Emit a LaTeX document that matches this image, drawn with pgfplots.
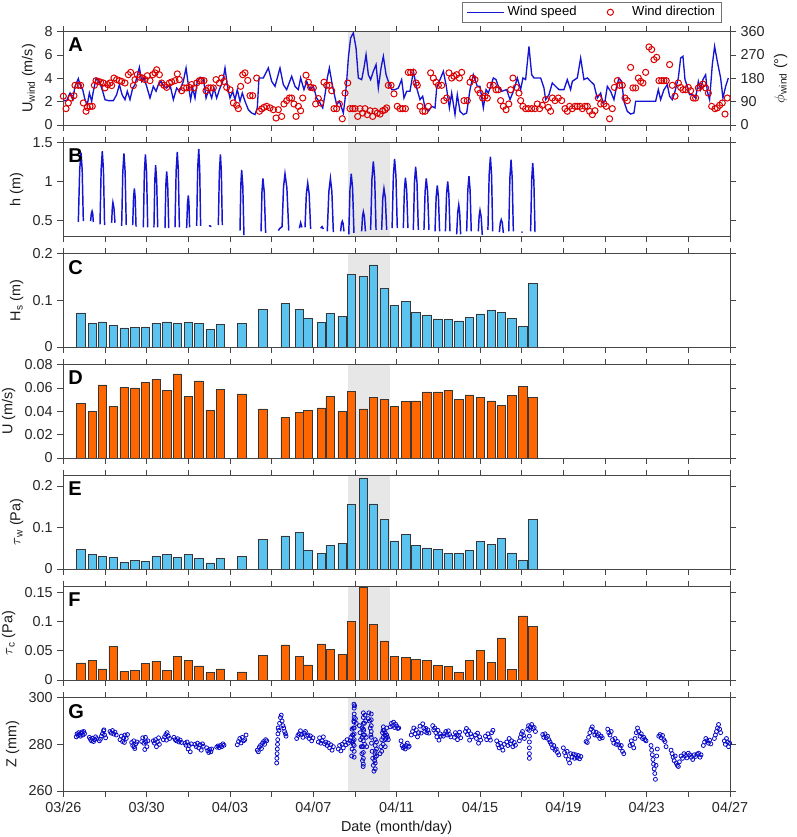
\documentclass[border=0pt]{standalone}
\usepackage{pgfplots}
\usepackage{pgfplotstable}
\pgfplotsset{compat=1.18}
\usepackage{fontspec}
\setmainfont{Liberation Sans}
\definecolor{wblue}{RGB}{20,20,210}
\definecolor{wred}{RGB}{220,0,0}
\definecolor{barblue}{RGB}{90,195,240}
\definecolor{barorange}{RGB}{255,102,0}
\definecolor{baredge}{RGB}{55,55,55}
\definecolor{shade}{RGB}{231,231,231}
\definecolor{axgray}{RGB}{70,70,70}
\definecolor{zblue}{RGB}{10,10,200}
\newcommand\fs{\fontsize{10.8}{13}\selectfont}
\newcommand\lfont{\fontsize{15}{15}\selectfont\bfseries}

\pgfplotstableread{
x Hs U tw tc
0.84 0.073 0.047 0.048 0.0295
1.39 0.051 0.040 0.0345 0.0335
1.87 0.054 0.0626 0.030 0.019
2.39 0.046 0.044 0.028 0.058
2.91 0.041 0.0606 0.016 0.015
3.43 0.042 0.060 0.020 0.017
3.94 0.043 0.065 0.019 0.028
4.45 0.051 0.0677 0.030 0.032
4.96 0.054 0.058 0.0345 0.0165
5.47 0.051 0.072 0.028 0.040
6.00 0.052 0.053 0.036 0.0335
6.50 0.050 0.066 0.0265 0.024
7.04 0.037 0.041 0.015 0.0136
7.54 0.049 0.059 0.0265 0.019
8.56 0.051 0.055 0.031 0.014
9.58 0.081 0.042 0.072 0.042
10.64 0.093 0.035 0.080 0.060
11.34 0.081 0.039 0.088 0.040
11.73 0.061 0.0406 0.045 0.026
12.38 0.053 0.043 0.037 0.062
12.80 0.072 0.053 0.057 0.053
13.38 0.065 0.040 0.061 0.044
13.82 0.156 0.057 0.155 0.100
14.40 0.152 0.042 0.219 0.1595
14.88 0.176 0.052 0.157 0.095
15.40 0.125 0.050 0.120 0.067
15.90 0.089 0.044 0.068 0.041
16.44 0.097 0.0486 0.083 0.0386
16.92 0.074 0.049 0.056 0.035
17.44 0.069 0.0566 0.051 0.034
17.97 0.060 0.0566 0.047 0.0256
18.47 0.059 0.058 0.038 0.023
18.98 0.056 0.050 0.038 0.0125
19.48 0.064 0.054 0.045 0.033
20.01 0.071 0.052 0.066 0.0506
20.53 0.078 0.049 0.059 0.030
21.03 0.074 0.045 0.074 0.072
21.52 0.061 0.0534 0.039 0.018
22.05 0.044 0.0617 0.021 0.110
22.54 0.136 0.0517 0.119 0.0915
}\bardata

\pgfplotsset{
  panel/.style={
    scale only axis, width=500pt, height=70pt,
    xmin=0, xmax=32,
    xtick={0,4,...,32}, minor xtick={2,6,...,30},
    xticklabels={},
    tick align=outside,
    major tick length=4.5pt, minor tick length=4.5pt,
    axis line style={draw=axgray, line width=0.6pt},
    tick style={draw=axgray, line width=0.6pt},
    every minor tick/.append style={draw=axgray, line width=0.6pt},
    tick label style={font=\fs, text=black!85},
    label style={font=\fs, text=black!90},
    /pgf/number format/assume math mode=true,
    scaled y ticks=false,
    yticklabel style={/pgf/number format/fixed, /pgf/number format/precision=2},
    axis on top,
    anchor=south west,
  },
  shadeplot/.style={fill=shade, draw=none, forget plot},
  bars/.style={ybar, bar width=0.4, draw=baredge, line width=0.4pt, forget plot},
  linelegend/.style={legend image code/.code={\draw[##1] (0pt,0pt) -- (28pt,0pt);}},
  marklegend/.style={legend image code/.code={\path (0pt,0pt) (28pt,0pt); \draw[##1, mark repeat=2, mark phase=2] plot coordinates {(0pt,0pt) (14pt,0pt) (28pt,0pt)};}},
}
\tikzset{plabel/.style={anchor=north west, inner sep=0pt, font=\lfont, xshift=3.5pt, yshift=-4.7pt}}

\begin{document}
\begin{tikzpicture}
\path[use as bounding box] (0pt,0pt) rectangle (597pt,627.75pt);

% ---------- A ----------
\begin{axis}[panel, at={(47.5pt,534pt)}, ymin=0, ymax=8, ytick={0,2,4,6,8}, ytick pos=left,
  ylabel={U\textsubscript{wind} (m/s)}]
\addplot[shadeplot] coordinates {(13.65,0)(13.65,8)(15.68,8)(15.68,0)} -- cycle;
\addplot[wblue, line width=1pt] coordinates {
(0.00,2.09)(0.16,2.09)(0.32,2.74)(0.45,2.17)(0.56,3.31)(0.72,3.97)(0.83,3.31)(0.93,3.03)(1.04,2.17)(1.15,1.74)(1.25,2.74)(1.36,2.03)(1.44,2.89)(1.57,3.97)(1.73,3.74)(1.89,2.89)(2.00,2.17)(2.16,2.09)(2.40,2.09)(2.56,2.60)(2.69,3.46)(2.82,2.60)(2.96,2.17)(3.07,2.89)(3.20,2.17)(3.33,3.17)(3.44,3.46)(3.65,4.94)(3.76,3.74)(3.87,4.03)(4.00,3.31)(4.16,2.31)(4.32,3.31)(4.45,2.89)(4.56,3.46)(4.69,3.74)(4.83,3.31)(4.96,3.17)(5.12,3.46)(5.28,2.17)(5.44,3.17)(5.57,2.89)(5.76,3.74)(5.89,4.89)(6.02,3.17)(6.11,2.17)(6.21,3.17)(6.32,2.31)(6.43,3.74)(6.56,4.09)(6.72,4.03)(6.85,2.31)(6.98,3.03)(7.12,2.31)(7.23,3.17)(7.36,2.31)(7.49,3.03)(7.65,3.74)(7.76,4.89)(7.89,3.17)(8.00,2.31)(8.13,2.89)(8.24,2.17)(8.35,3.03)(8.48,2.03)(8.59,2.74)(8.72,2.03)(8.88,1.31)(9.04,1.03)(9.20,0.89)(9.31,1.46)(9.39,4.03)(9.60,4.03)(9.84,4.89)(10.00,3.74)(10.16,3.31)(10.40,4.89)
(10.56,3.46)(10.72,3.03)(10.96,4.17)(11.12,3.31)(11.28,3.03)(11.39,4.03)(11.55,3.03)(11.68,3.74)(11.84,3.03)(12.00,3.31)(12.16,2.31)(12.32,1.89)(12.45,1.46)(12.56,2.60)(12.67,4.03)(12.77,4.89)(12.88,3.74)(13.01,2.60)(13.12,1.74)(13.25,2.03)(13.36,1.46)(13.44,1.03)(13.52,2.17)(13.60,3.74)(13.68,5.74)(13.79,7.46)(13.92,7.89)(14.05,6.60)(14.16,4.03)(14.32,3.89)(14.43,4.89)(14.53,6.03)(14.64,4.31)(14.75,3.89)(14.88,4.60)(15.01,5.17)(15.12,3.17)(15.25,4.89)(15.36,5.89)(15.49,4.31)(15.60,3.74)(15.76,3.03)(15.92,3.03)(16.08,3.17)(16.24,3.89)(16.35,2.31)(16.48,2.89)(16.64,2.89)(16.80,4.60)(16.96,3.17)(17.12,2.17)(17.25,2.46)(17.36,1.46)(17.52,1.17)(17.68,1.60)(17.84,1.46)(17.92,3.17)(18.08,3.89)(18.24,4.60)(18.37,3.46)(18.53,1.46)(18.64,2.74)(18.80,0.89)(18.91,2.60)(19.04,1.17)(19.20,0.89)(19.36,1.03)(19.52,3.03)(19.68,4.31)(19.87,3.31)(20.00,3.31)(20.16,1.46)(20.29,3.03)(20.40,2.74)(20.51,3.31)(20.64,4.03)(20.77,3.89)(20.88,3.31)(21.04,2.89)(21.28,3.03)(21.44,2.17)
(21.63,3.03)(21.79,4.03)(21.95,3.03)(22.06,4.03)(22.19,3.89)(22.35,6.74)(22.48,4.31)(22.59,4.03)(22.75,4.03)(22.91,4.03)(23.07,3.17)(23.15,2.17)(23.31,2.60)(23.47,3.60)(23.63,3.31)(23.79,3.03)(24.03,3.03)(24.19,3.89)(24.35,3.03)(24.43,3.74)(24.67,4.03)(24.83,5.74)(24.99,3.89)(25.15,4.03)(25.31,3.74)(25.47,3.46)(25.63,2.31)(25.79,2.74)(25.90,1.89)(26.00,2.03)(26.11,3.31)(26.27,2.89)(26.43,2.17)(26.54,3.17)(26.67,4.03)(26.80,3.74)(26.91,2.03)(27.07,1.17)(27.23,0.94)(27.39,1.03)(27.47,2.03)(27.95,2.03)(28.43,2.03)(28.56,3.03)(28.67,2.17)(28.83,3.03)(28.99,3.46)(29.10,2.46)(29.23,2.17)(29.36,2.89)(29.52,4.03)(29.63,5.74)(29.74,5.89)(29.84,3.89)(29.95,3.31)(30.06,2.60)(30.19,2.60)(30.35,2.31)(30.48,3.74)(30.59,3.03)(30.70,3.89)(30.83,4.31)(30.91,2.89)(31.02,2.17)(31.15,5.17)(31.26,6.74)(31.39,5.46)(31.55,4.03)(31.66,2.31)(31.79,3.31)(31.92,4.03)
};
\node[plabel] at (rel axis cs:0,1) {A};
\end{axis}
\begin{axis}[panel, at={(47.5pt,534pt)}, ymin=0, ymax=360, ytick={0,90,180,270,360},
  axis x line=none, axis y line*=right, tick align=outside, clip=false,
  ylabel={$\phi$\textsubscript{wind} (°)},
  legend columns=2,
  legend style={at={(0.988,1)}, anchor=south east, yshift=6.5pt, draw=black!55, line width=0.5pt,
    fill=white, font=\fontsize{9.8}{11}\selectfont, inner xsep=3pt, inner ysep=1.5pt,
    /tikz/every even column/.append style={column sep=9pt}}]
\addlegendimage{wblue, line width=1pt, linelegend}
\addlegendentry{Wind speed}
\addplot[only marks, mark=o, mark size=2.3pt, wred, line width=0.75pt, marklegend]
coordinates {
(0.00,111)(0.13,63)(0.24,85)(0.37,104)(0.51,113)(0.56,153)(0.72,153)(0.83,153)(0.96,85)(1.09,53)(1.15,68)(1.28,72)(1.39,72)(1.49,153)(1.57,171)(1.68,168)(1.79,165)(1.92,162)(2.00,143)(2.13,156)(2.24,162)(2.32,152)(2.43,181)(2.56,175)(2.69,171)(2.80,168)(2.96,162)(3.12,194)(3.23,203)(3.36,152)(3.44,175)(3.55,194)(3.68,184)(3.81,181)(3.92,175)(4.03,190)(4.16,171)(4.29,194)(4.40,201)(4.48,213)(4.61,194)(4.72,162)(4.83,153)(4.96,145)(5.09,162)(5.20,166)(5.36,171)(5.47,197)(5.57,175)(5.68,132)(5.79,143)(5.92,143)(6.05,145)(6.16,156)(6.27,143)(6.40,162)(6.53,171)(6.64,171)(6.75,171)(6.85,132)(6.96,143)(7.07,143)(7.20,143)(7.33,175)(7.49,162)(7.60,181)(7.71,168)(7.84,145)(8.00,136)(8.16,85)(8.32,76)(8.40,63)(8.51,149)(8.61,194)(8.72,201)(8.85,172)(8.96,113)(9.09,113)(9.28,181)(9.41,53)(9.52,62)(9.63,68)(9.76,72)(9.92,66)(10.08,59)(10.21,27)(10.32,59)(10.48,33)(10.59,81)(10.72,94)(10.85,104)
(10.96,104)(11.07,81)(11.17,33)(11.28,72)(11.39,55)(11.49,104)(11.65,192)(11.76,165)(11.87,145)(12.00,143)(12.11,81)(12.24,102)(12.35,85)(12.51,165)(12.64,153)(12.77,153)(12.88,132)(12.99,63)(13.12,63)(13.25,81)(13.39,24)(13.52,123)(13.65,162)(13.76,63)(13.89,63)(14.00,63)(14.13,33)(14.24,63)(14.37,46)(14.48,63)(14.59,40)(14.72,55)(14.85,33)(14.96,53)(15.07,46)(15.20,42)(15.33,55)(15.44,59)(15.52,66)(15.60,153)(15.73,153)(15.87,120)(16.03,72)(16.16,63)(16.29,63)(16.42,63)(16.56,203)(16.67,203)(16.80,203)(16.93,162)(16.99,153)(17.12,72)(17.25,53)(17.36,53)(17.52,72)(17.63,201)(17.76,181)(17.89,165)(18.00,153)(18.16,153)(18.27,94)(18.40,104)(18.51,201)(18.64,181)(18.75,188)(18.88,194)(19.01,181)(19.12,203)(19.23,94)(19.39,94)(19.52,165)(19.65,181)(19.76,175)(19.89,136)(20.00,123)(20.13,104)(20.24,111)(20.35,104)(20.48,153)(20.64,153)(20.77,136)(20.88,136)(20.99,94)(21.12,72)(21.25,59)(21.38,81)
(21.47,136)(21.58,181)(21.74,145)(21.87,123)(21.95,94)(22.06,72)(22.19,63)(22.32,63)(22.48,63)(22.64,63)(22.75,81)(22.86,63)(22.99,76)(23.15,98)(23.28,68)(23.39,53)(23.47,104)(23.60,94)(23.76,104)(23.92,94)(24.08,63)(24.19,53)(24.30,72)(24.43,63)(24.56,72)(24.67,72)(24.80,72)(24.91,63)(25.04,72)(25.15,72)(25.26,53)(25.39,40)(25.52,55)(25.68,104)(25.79,81)(25.95,81)(26.06,72)(26.22,24)(26.35,63)(26.45,145)(26.59,171)(26.70,153)(26.83,153)(26.96,104)(27.07,94)(27.23,222)(27.34,143)(27.47,143)(27.60,181)(27.71,168)(27.82,162)(27.95,203)(28.11,301)(28.24,291)(28.35,252)(28.48,261)(28.59,171)(28.72,171)(28.83,171)(28.94,171)(29.10,233)(29.23,153)(29.36,111)(29.52,162)(29.63,145)(29.74,136)(29.87,136)(30.00,145)(30.11,132)(30.24,104)(30.35,104)(30.48,143)(30.59,149)(30.70,158)(30.83,143)(30.96,123)(31.12,72)(31.28,63)(31.39,66)(31.50,76)(31.63,85)(31.76,42)(31.87,104)
};
\addlegendentry{Wind direction}
\end{axis}

% ---------- B ----------
\begin{axis}[panel, at={(47.5pt,450.75pt)}, ymin=0.3, ymax=1.5, ytick={0.5,1,1.5},
  ylabel={h (m)}, unbounded coords=jump]
\addplot[shadeplot] coordinates {(13.65,0.3)(13.65,1.5)(15.68,1.5)(15.68,0.3)} -- cycle;
\addplot[wblue, line width=1.1pt] coordinates {
(0.72,0.48)(0.785,1.15)(0.85,1.37)(0.905,1.15)(0.96,0.49)(0.98,nan)
(1.31,0.49)(1.345,0.59)(1.38,0.62)(1.41,0.59)(1.44,0.48)(1.50,nan)
(1.76,0.45)(1.815,1.15)(1.87,1.39)(1.925,1.15)(1.98,0.44)(2.0,nan)
(2.32,0.47)(2.35,0.66)(2.38,0.73)(2.43,0.66)(2.48,0.47)(2.5,nan)
(2.80,0.43)(2.855,1.13)(2.91,1.36)(2.965,1.13)(3.02,0.44)(3.1,nan)
(3.33,0.44)(3.37,0.79)(3.41,0.91)(3.45,0.79)(3.49,0.42)(3.6,nan)
(3.84,0.41)(3.89,1.12)(3.94,1.35)(3.995,1.12)(4.05,0.41)(4.1,nan)
(4.35,0.41)(4.39,1.01)(4.43,1.21)(4.48,1.01)(4.53,0.41)(4.6,nan)
(4.88,0.40)(4.92,0.95)(4.96,1.13)(5.01,0.95)(5.06,0.40)(5.1,nan)
(5.36,0.41)(5.415,1.14)(5.47,1.38)(5.52,1.14)(5.57,0.41)(5.6,nan)
(5.92,0.40)(5.96,0.72)(6.00,0.82)(6.03,0.72)(6.06,0.41)(6.1,nan)
(6.40,0.43)(6.45,1.17)(6.50,1.42)(6.545,1.17)(6.59,0.43)(6.7,nan)
(6.99,0.43)(7.04,0.43)(7.10,0.42)(7.2,nan)
(7.44,0.44)(7.49,1.12)(7.54,1.35)(7.585,1.12)(7.63,0.44)(7.7,nan)
(8.48,0.37)(8.52,0.96)(8.56,1.15)(8.615,0.94)(8.67,0.31)(8.7,nan)
(9.49,0.36)(9.535,0.87)(9.58,1.04)(9.645,0.86)(9.71,0.34)(9.8,nan)
(10.32,0.37)(10.40,0.40)(10.50,0.42)(10.57,0.93)(10.64,1.10)(10.73,0.92)(10.82,0.37)(10.9,nan)
(11.33,0.40)(11.39,0.47)(11.45,0.41)(11.5,nan)
(11.60,0.41)(11.665,0.84)(11.73,0.98)(11.80,0.84)(11.87,0.39)(11.9,nan)
(12.35,0.40)(12.42,0.42)(12.48,0.39)(12.5,nan)
(12.67,0.36)(12.745,0.87)(12.82,1.04)(12.89,0.87)(12.96,0.35)(13.0,nan)
(13.31,0.36)(13.35,0.46)(13.39,0.49)(13.43,0.46)(13.47,0.36)(13.5,nan)
(13.70,0.32)(13.76,0.90)(13.82,1.10)(13.885,0.91)(13.95,0.34)(14.0,nan)
(14.32,0.36)(14.36,0.55)(14.40,0.61)(14.45,0.55)(14.50,0.36)(14.6,nan)
(14.75,0.38)(14.815,1.04)(14.88,1.26)(14.945,1.04)(15.01,0.38)(15.1,nan)
(15.28,0.38)(15.335,0.79)(15.39,0.91)(15.455,0.79)(15.52,0.38)(15.6,nan)
(15.78,0.40)(15.84,1.07)(15.90,1.29)(15.965,1.07)(16.03,0.40)(16.1,nan)
(16.32,0.40)(16.37,0.89)(16.42,1.05)(16.48,0.89)(16.54,0.40)(16.6,nan)
(16.80,0.38)(16.855,0.99)(16.91,1.19)(16.975,0.99)(17.04,0.38)(17.1,nan)
(17.31,0.38)(17.365,0.87)(17.42,1.04)(17.485,0.87)(17.55,0.38)(17.6,nan)
(17.84,0.36)(17.895,0.80)(17.95,0.95)(18.005,0.80)(18.06,0.36)(18.1,nan)
(18.34,0.36)(18.395,0.84)(18.45,1.00)(18.505,0.84)(18.56,0.36)(18.6,nan)
(18.88,0.32)(18.93,0.60)(18.98,0.70)(19.025,0.60)(19.07,0.32)(19.1,nan)
(19.36,0.36)(19.415,0.89)(19.47,1.07)(19.525,0.89)(19.58,0.36)(19.6,nan)
(19.92,0.36)(19.96,0.56)(20.00,0.63)(20.055,0.55)(20.11,0.31)(20.2,nan)
(20.38,0.38)(20.44,1.09)(20.50,1.32)(20.555,1.08)(20.61,0.36)(20.7,nan)
(20.93,0.35)(20.975,0.47)(21.02,0.51)(21.07,0.47)(21.12,0.34)(21.2,nan)
(21.38,0.36)(21.435,1.05)(21.49,1.28)(21.545,1.05)(21.60,0.36)(21.7,nan)
(21.98,0.35)(22.05,0.35)(22.1,nan)
(22.43,0.36)(22.48,1.01)(22.53,1.24)(22.585,1.01)(22.64,0.35)
};
\node[plabel] at (rel axis cs:0,1) {B};
\end{axis}

% ---------- C ----------
\begin{axis}[panel, at={(47.5pt,367.5pt)}, ymin=0, ymax=0.2, ytick={0,0.1,0.2},
  ylabel={H\textsubscript{s} (m)}]
\addplot[shadeplot] coordinates {(13.65,0)(13.65,0.2)(15.68,0.2)(15.68,0)} -- cycle;
\addplot[bars, fill=barblue] table[x=x, y=Hs] {\bardata};
\node[plabel] at (rel axis cs:0,1) {C};
\end{axis}

% ---------- D ----------
\begin{axis}[panel, at={(47.5pt,284.25pt)}, ymin=0, ymax=0.08, ytick={0,0.02,0.04,0.06,0.08},
  ylabel={U (m/s)}]
\addplot[shadeplot] coordinates {(13.65,0)(13.65,0.08)(15.68,0.08)(15.68,0)} -- cycle;
\addplot[bars, fill=barorange] table[x=x, y=U] {\bardata};
\node[plabel] at (rel axis cs:0,1) {D};
\end{axis}

% ---------- E ----------
\begin{axis}[panel, at={(47.5pt,201pt)}, ymin=0, ymax=0.225, ytick={0,0.1,0.2},
  ylabel={$\tau$\textsubscript{w} (Pa)}]
\addplot[shadeplot] coordinates {(13.65,0)(13.65,0.225)(15.68,0.225)(15.68,0)} -- cycle;
\addplot[bars, fill=barblue] table[x=x, y=tw] {\bardata};
\node[plabel] at (rel axis cs:0,1) {E};
\end{axis}

% ---------- F ----------
\begin{axis}[panel, at={(47.5pt,117.75pt)}, ymin=0, ymax=0.16, ytick={0,0.05,0.1,0.15},
  ylabel={$\tau$\textsubscript{c} (Pa)}]
\addplot[shadeplot] coordinates {(13.65,0)(13.65,0.16)(15.68,0.16)(15.68,0)} -- cycle;
\addplot[bars, fill=barorange] table[x=x, y=tc] {\bardata};
\node[plabel] at (rel axis cs:0,1) {F};
\end{axis}

% ---------- G ----------
\begin{axis}[panel, at={(47.5pt,34.5pt)}, ymin=260, ymax=300, ytick={260,280,300},
  xticklabels={03/26,03/30,04/03,04/07,04/11,04/15,04/19,04/23,04/27},
  ylabel={Z (mm)}, xlabel={Date (month/day)}]
\addplot[shadeplot] coordinates {(13.65,260)(13.65,300)(15.68,300)(15.68,260)} -- cycle;
\addplot[only marks, mark=o, mark size=1.5pt, zblue, line width=0.6pt] coordinates {
(0.62,283.2)(0.66,284.5)(0.70,283.8)(0.74,285.0)(0.78,284.2)(0.82,283.5)(0.86,284.8)(0.90,285.3)(0.94,284.0)(0.98,285.5)(1.02,284.6)
(1.25,283.0)(1.30,282.2)(1.35,281.5)(1.40,282.6)(1.45,281.2)(1.50,282.0)(1.55,283.2)(1.60,282.4)
(1.73,281.5)(1.78,282.2)(1.83,283.5)(1.88,284.6)(1.93,285.8)(1.98,284.0)(2.03,282.8)(1.95,286.2)
(2.24,285.5)(2.30,284.8)(2.36,285.9)(2.42,284.4)(2.48,285.2)(2.54,284.0)
(2.72,282.0)(2.78,283.5)(2.84,281.2)(2.90,282.8)(2.96,284.0)(3.02,282.5)(3.08,284.2)(2.93,280.8)
(3.28,280.8)(3.33,279.5)(3.38,281.5)(3.43,278.2)(3.48,280.2)(3.53,281.0)(3.40,279.0)
(3.76,281.2)(3.81,282.8)(3.86,280.5)(3.91,277.8)(3.96,281.0)(4.01,279.0)(4.06,281.5)(3.94,283.0)
(4.32,281.5)(4.37,280.5)(4.42,282.0)(4.47,279.0)(4.52,281.0)(4.57,282.8)(4.61,280.0)
(4.80,282.0)(4.86,283.2)(4.92,284.2)(4.98,285.0)(5.04,283.5)(5.10,282.5)(4.95,281.8)
(5.31,283.0)(5.37,282.0)(5.43,281.5)(5.49,282.4)(5.55,281.0)(5.61,281.8)(5.67,280.8)
(5.84,280.5)(5.89,279.6)(5.94,281.0)(5.99,278.0)(6.04,279.5)(6.09,276.8)(6.14,280.2)
(6.32,280.0)(6.38,279.0)(6.44,280.5)(6.50,278.5)(6.56,279.8)(6.62,277.5)(6.68,280.2)(6.72,279.2)
(6.88,278.5)(6.93,277.3)(6.98,276.5)(7.03,277.8)(7.08,276.8)(7.12,278.0)
(7.36,278.8)(7.42,279.3)(7.48,278.6)(7.54,279.5)(7.60,279.0)(7.66,280.2)(7.71,279.6)
(8.35,279.8)(8.41,281.2)(8.47,282.5)(8.53,280.6)(8.59,283.0)(8.65,281.5)(8.71,282.0)(8.77,284.0)
(9.31,277.5)(9.36,276.8)(9.41,278.8)(9.46,279.5)(9.51,278.2)(9.56,280.5)(9.61,281.2)(9.66,280.0)(9.71,282.0)(9.76,281.5)
(10.24,272.0)(10.25,274.0)(10.26,276.0)(10.27,278.0)(10.28,280.0)(10.29,282.0)(10.30,284.5)(10.31,287.0)(10.35,286.0)(10.38,289.0)(10.42,291.5)(10.46,292.5)(10.50,290.0)(10.54,288.0)(10.58,287.0)(10.62,285.5)(10.66,284.5)(10.69,283.5)
(11.20,282.5)(11.26,283.8)(11.32,284.5)(11.38,285.8)(11.44,284.2)(11.50,283.0)(11.56,284.8)(11.62,285.5)(11.68,283.5)(11.74,284.0)(11.80,282.5)(11.86,283.6)(11.92,281.5)(11.98,282.8)
(12.24,281.0)(12.30,282.8)(12.36,280.5)(12.42,281.5)(12.48,283.2)(12.54,280.2)(12.60,281.0)(12.66,279.5)(12.72,280.5)(12.78,278.5)(12.84,279.8)(12.90,277.5)(12.96,279.0)
(13.20,278.0)(13.26,279.5)(13.32,277.2)(13.38,280.0)(13.44,278.5)(13.50,281.0)(13.56,279.8)(13.62,282.0)(13.68,280.5)
(13.76,281.5)(13.80,283.0)(13.84,275.0)(13.86,278.0)(13.88,281.0)(13.90,284.0)(13.92,287.0)(13.94,290.0)(13.96,293.0)(13.98,296.5)(14.02,291.0)(14.06,289.0)
(13.96,274.5)(13.96,277.0)(13.96,279.5)(13.96,282.0)(13.96,284.5)(13.96,287.0)(13.96,289.5)(13.96,291.5)(13.96,295.5)(13.95,297.2)(13.90,281.5)(13.88,284.0)(13.86,286.5)(13.92,280.0)
(14.21,288.0)(14.24,285.0)(14.27,282.0)(14.30,279.0)(14.33,276.0)(14.36,273.0)(14.39,270.5)(14.42,286.0)(14.45,289.0)(14.48,292.5)(14.51,290.0)(14.54,283.0)(14.56,279.0)
(14.40,271.5)(14.40,274.0)(14.40,276.5)(14.40,279.0)(14.40,281.5)(14.40,284.0)(14.40,286.5)(14.40,289.0)(14.40,291.5)(14.40,293.5)(14.34,279.0)(14.34,283.0)(14.34,287.0)(14.46,280.0)(14.46,284.0)
(14.64,291.0)(14.67,293.5)(14.70,290.0)(14.73,287.0)(14.76,284.0)(14.79,280.5)(14.82,277.0)(14.85,274.0)(14.88,271.0)(14.91,268.5)(14.94,273.0)(14.96,276.0)
(14.78,293.0)(14.78,290.5)(14.78,288.0)(14.78,285.5)(14.78,283.0)(14.97,282.0)(14.97,279.5)(14.97,277.0)(14.97,274.5)(14.97,272.0)(14.97,269.5)(15.03,275.0)(15.03,278.0)(15.03,281.0)
(15.20,276.0)(15.24,279.0)(15.28,282.0)(15.32,285.0)(15.36,287.5)(15.40,286.0)(15.44,284.0)(15.48,282.5)(15.52,284.0)(15.56,283.0)(15.60,282.0)
(15.35,280.0)(15.35,283.0)(15.35,286.0)(15.45,279.0)(15.45,282.0)(15.45,285.0)(15.52,287.0)(15.28,277.0)
(15.70,287.5)(15.75,289.0)(15.80,288.0)(15.85,289.5)(15.90,287.2)(15.95,288.6)(16.00,287.8)(16.05,286.8)(16.10,287.0)
(16.21,281.5)(16.26,279.5)(16.31,278.5)(16.36,279.0)(16.41,278.0)(16.46,279.5)(16.51,280.5)(16.56,278.8)(16.60,279.2)
(16.70,284.0)(16.76,285.5)(16.82,287.0)(16.88,284.5)(16.94,286.2)(17.00,283.2)(17.06,285.0)(17.12,287.8)(17.17,284.8)
(17.25,288.8)(17.30,287.0)(17.35,285.5)(17.40,286.8)(17.45,285.0)(17.50,286.2)(17.55,284.8)
(17.73,288.0)(17.78,286.2)(17.83,287.0)(17.88,285.0)(17.93,283.2)(17.98,286.0)(18.03,281.8)(18.08,284.5)(18.13,283.5)
(18.24,283.5)(18.30,284.5)(18.36,285.5)(18.42,284.0)(18.48,285.8)(18.54,284.2)(18.60,283.2)
(18.77,283.0)(18.82,285.0)(18.87,284.0)(18.92,282.0)(18.97,283.8)(19.02,285.2)(19.07,282.8)
(19.30,285.5)(19.35,286.8)(19.40,284.2)(19.45,285.8)(19.50,281.8)(19.55,284.5)(19.60,283.2)
(19.78,284.0)(19.83,282.5)(19.88,284.8)(19.93,280.5)(19.98,283.2)(20.03,281.8)
(20.26,283.5)(20.32,282.0)(20.38,284.5)(20.44,283.0)(20.50,281.8)(20.56,285.0)(20.62,286.0)
(20.80,281.5)(20.86,279.8)(20.92,278.5)(20.98,280.5)(21.04,279.0)(21.10,277.5)(21.16,280.0)
(21.28,281.0)(21.34,279.5)(21.40,282.5)(21.46,280.2)(21.52,281.5)(21.58,279.0)(21.64,280.8)(21.70,279.6)
(21.89,281.5)(21.94,283.0)(21.99,284.5)(22.04,285.5)(22.09,283.8)(22.13,282.5)
(22.29,286.5)(22.33,288.0)(22.37,286.0)(22.37,283.5)(22.37,281.0)(22.37,278.5)(22.37,276.0)(22.37,274.0)(22.42,287.5)(22.48,288.5)(22.54,286.8)(22.60,287.2)(22.66,285.5)
(23.01,284.2)(23.06,283.0)(23.12,284.5)(23.18,282.8)(23.24,283.5)
(23.30,282.0)(23.36,281.0)(23.42,280.0)(23.48,278.5)(23.54,279.5)(23.60,277.5)(23.66,278.0)(23.72,276.5)(23.78,275.5)
(24.00,278.5)(24.06,276.5)(24.12,275.0)(24.18,277.0)(24.24,273.5)(24.30,272.0)(24.36,276.0)(24.42,274.5)(24.48,275.8)(24.54,274.0)(24.60,275.5)(24.66,274.2)(24.72,275.2)(24.78,273.8)(24.84,274.8)
(25.09,281.2)(25.15,280.8)(25.21,283.0)(25.27,285.0)(25.33,286.5)(25.39,287.5)(25.45,285.5)(25.51,284.0)(25.57,285.2)(25.63,283.8)(25.69,284.5)(25.75,282.5)(25.81,283.5)(25.87,282.8)
(26.13,286.5)(26.18,285.0)(26.24,284.0)(26.30,285.5)(26.36,282.0)(26.42,280.5)(26.48,282.5)(26.54,280.0)(26.60,281.2)(26.66,279.8)(26.72,278.5)(26.78,279.5)(26.84,277.0)(26.90,276.0)
(27.20,279.5)(27.26,281.5)(27.32,280.0)(27.38,278.5)(27.44,282.5)(27.50,285.0)(27.56,287.0)(27.62,285.5)(27.68,283.5)(27.74,284.5)(27.80,282.5)(27.86,283.0)(27.92,282.0)(27.97,281.5)
(28.21,279.5)(28.24,277.5)(28.27,275.5)(28.30,273.5)(28.33,271.5)(28.36,269.5)(28.39,267.5)(28.42,265.0)(28.45,271.0)(28.48,275.0)(28.51,278.0)
(28.58,283.5)(28.64,284.2)(28.70,282.8)(28.76,283.8)(28.82,282.0)(28.88,281.2)(28.93,279.0)
(29.17,277.5)(29.22,276.0)(29.27,274.5)(29.32,273.0)(29.37,275.0)(29.42,272.0)(29.47,271.0)(29.52,270.5)(29.57,272.5)
(29.65,275.0)(29.72,274.0)(29.79,276.0)(29.86,275.2)(29.93,274.2)(30.00,276.2)(30.07,275.5)(30.14,274.5)(30.21,273.5)(30.28,275.5)(30.35,274.8)(30.42,275.8)(30.49,276.2)(30.56,274.5)(30.61,275.5)
(30.72,279.5)(30.78,281.0)(30.84,282.5)(30.90,281.5)(30.96,280.5)(31.02,281.8)(31.08,280.2)
(31.25,282.5)(31.30,284.0)(31.35,285.5)(31.40,287.0)(31.45,288.5)(31.50,286.5)(31.55,285.0)
(31.73,281.5)(31.78,280.0)(31.83,282.5)(31.88,281.0)(31.93,279.0)(31.98,280.5)
};
\node[plabel] at (rel axis cs:0,1) {G};
\end{axis}
\end{tikzpicture}
\end{document}
